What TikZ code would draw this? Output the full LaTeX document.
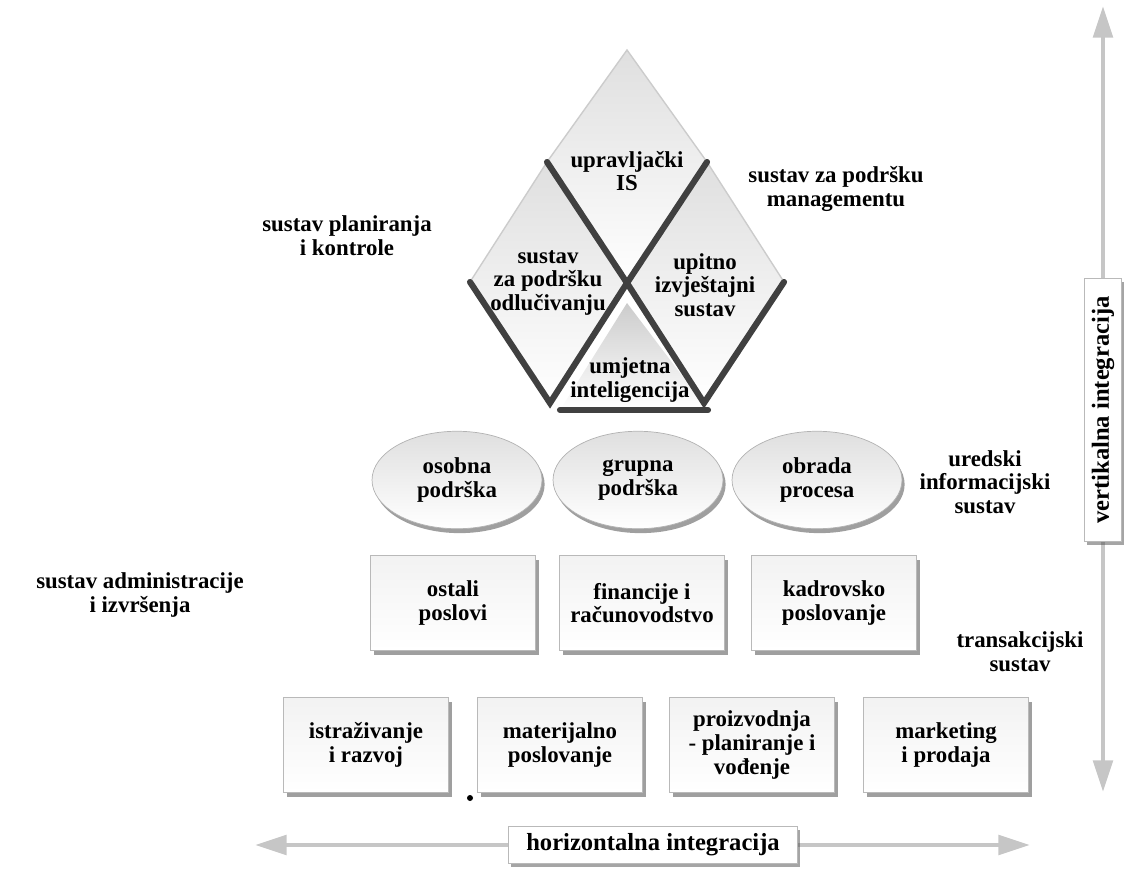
\documentclass[tikz,border=0pt]{standalone}
\usepackage{fontspec}
\setmainfont{Liberation Serif}
\usetikzlibrary{shapes.geometric,shadows,arrows.meta,positioning}

\begin{document}
\begin{tikzpicture}[x=0.02cm,y=-0.02cm,
  txt/.style={font=\bfseries\fontsize{13}{13.5}\selectfont,align=center,inner sep=0pt},
  oval/.style={ellipse,draw=gray!60,thin,top color=gray!25,bottom color=white,
    minimum width=3.4cm,minimum height=1.95cm,
    drop shadow={shadow xshift=1.5pt,shadow yshift=-2.5pt,fill=black!75},txt},
  sysbox/.style={rectangle,draw=gray!55,thin,top color=gray!10,bottom color=white,
    minimum width=3.3cm,minimum height=1.9cm,
    drop shadow={shadow xshift=2pt,shadow yshift=-2.5pt,fill=black!75},txt},
  intbox/.style={rectangle,draw=gray!55,fill=white,inner xsep=10pt,inner ysep=4pt,
    drop shadow={shadow xshift=1.5pt,shadow yshift=-2pt,fill=black!70},
    font=\bfseries\fontsize{14}{16}\selectfont},
  arr/.style={draw=gray!45,line width=2.5pt,{Triangle[length=18pt,width=11pt]}-{Triangle[length=18pt,width=11pt]}},
  lite/.style={draw=gray!40,line width=0.8pt},
  dark/.style={draw=black!75,line width=3.5pt,line cap=round}
]
\useasboundingbox (0,0) rectangle (1146,885);

% corner points of the diamond group
\coordinate (ctr) at (627,283);
\coordinate (top) at (627,50);
\coordinate (lv) at (547,162);
\coordinate (rv) at (707,162);
\coordinate (llv) at (470,282);
\coordinate (rrv) at (784,282);
\coordinate (lb) at (550,403);
\coordinate (rb) at (704,403);
\coordinate (apex) at (627,303);
\coordinate (tl) at (560,410);
\coordinate (tr) at (708,410);

% fills
\shade[top color=gray!25,bottom color=white] (top) -- (lv) -- (ctr) -- (rv) -- cycle;
\shade[top color=gray!25,bottom color=white] (lv) -- (llv) -- (lb) -- (ctr) -- cycle;
\shade[top color=gray!25,bottom color=white] (rv) -- (ctr) -- (rb) -- (rrv) -- cycle;
\shade[top color=gray!40,bottom color=white] (apex) -- (tl) -- (tr) -- cycle;

% edges
\draw[lite] (lv) -- (top) -- (rv);
\draw[lite] (lv) -- (llv);
\draw[lite] (rv) -- (rrv);
\draw[dark] (lv) -- (ctr) -- (rv);
\draw[dark] (llv) -- (lb) -- (ctr) -- (rb) -- (rrv);
\draw[dark] (tl) -- (tr);

\node[txt] (mis) at (627,171) {upravljački\\IS};
\node[txt] (dss) at (548,283) {sustav\\za podršku\\odlučivanju};
\node[txt] (irs) at (705,285) {upitno\\izvještajni\\sustav};
\node[txt] (ai) at (630,380) {umjetna\\inteligencija};

% office systems
\node[oval] (personal) at (457,480) {osobna\\podrška};
\node[oval] (group) at (638,480) {grupna\\podrška};
\node[oval] (process) at (817,480) {obrada\\procesa};

% transaction systems
\node[sysbox] (other) at (453,603) {ostali\\poslovi};
\node[sysbox] (finance) at (642,603) {financije i\\računovodstvo};
\node[sysbox] (staff) at (834,603) {kadrovsko\\poslovanje};

\node[sysbox] (research) at (366,745) {istraživanje\\i razvoj};
\node[sysbox] (material) at (560,745) {materijalno\\poslovanje};
\node[sysbox] (production) at (752,745) {proizvodnja\\- planiranje i\\vođenje};
\node[sysbox] (marketing) at (946,745) {marketing\\i prodaja};

\fill (470,798) circle (3);

% side labels
\node[txt] (planning) at (347,236) {sustav planiranja\\i kontrole};
\node[txt] (mss) at (836,189) {sustav za podršku\\managementu};
\node[txt] (office) at (985,482) {uredski\\informacijski\\sustav};
\node[txt] (admin) at (140,595) {sustav administracije\\i izvršenja};
\node[txt] (tps) at (1020,652) {transakcijski\\sustav};

% integration arrows
\coordinate (vtop) at (1103,6);
\coordinate (vbot) at (1103,792);
\draw[arr] (vtop) -- (vbot);
\node[intbox,rotate=90] (vert) at (1103,410) {vertikalna integracija};

\coordinate (hleft) at (255,845);
\coordinate (hright) at (1030,845);
\draw[arr] (hleft) -- (hright);
\node[intbox] (horiz) at (653,845) {horizontalna integracija};
\end{tikzpicture}
\end{document}
